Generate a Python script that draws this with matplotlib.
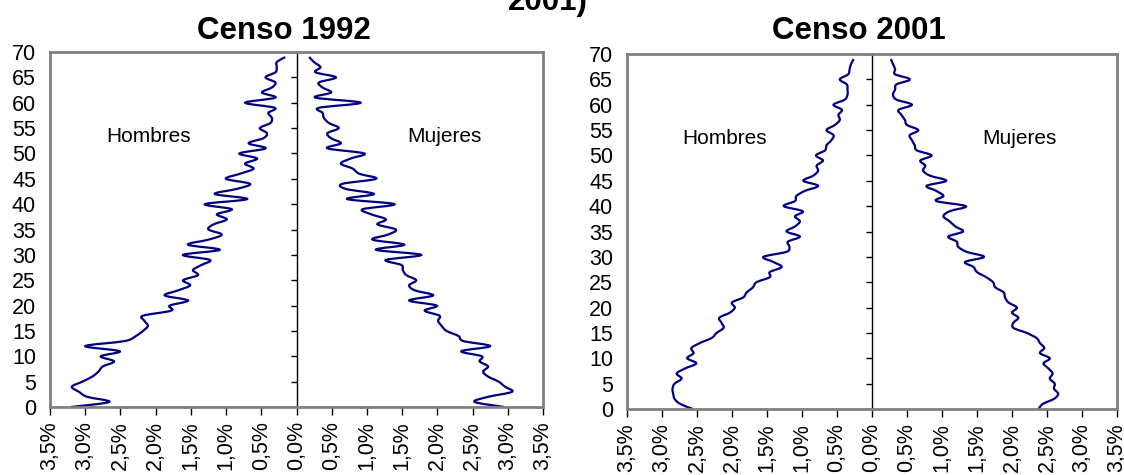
import matplotlib
matplotlib.use("Agg")
import matplotlib.pyplot as plt
from matplotlib.path import Path
from matplotlib.patches import PathPatch
import numpy as np

plt.rcParams['font.family'] = ['Liberation Sans', 'DejaVu Sans']

ages = list(range(70))

# Censo 1992 (% de la población por edad simple)
hombres_1992 = [3.20, 2.66, 2.97, 3.09, 3.19, 3.04, 2.90, 2.81, 2.75, 2.59,
                2.78, 2.51, 3.00, 2.44, 2.28, 2.18, 2.11, 2.16, 2.18, 1.78,
                1.80, 1.54, 1.87, 1.68, 1.51, 1.61, 1.40, 1.47, 1.35, 1.23,
                1.61, 1.09, 1.54, 1.25, 1.06, 1.25, 1.18, 0.99, 1.13, 0.92,
                1.30, 0.70, 1.16, 0.85, 0.66, 1.00, 0.80, 0.61, 0.73, 0.56,
                0.81, 0.44, 0.68, 0.47, 0.42, 0.52, 0.37, 0.35, 0.40, 0.31,
                0.73, 0.30, 0.49, 0.35, 0.30, 0.44, 0.30, 0.28, 0.28, 0.16]
mujeres_1992 = [2.95, 2.53, 2.72, 3.06, 2.96, 2.87, 2.72, 2.65, 2.72, 2.60,
                2.63, 2.34, 2.75, 2.37, 2.30, 2.13, 2.06, 2.01, 2.03, 1.82,
                1.99, 1.60, 1.94, 1.68, 1.60, 1.70, 1.56, 1.51, 1.49, 1.27,
                1.77, 1.13, 1.53, 1.08, 1.30, 1.41, 1.15, 1.27, 1.06, 0.94,
                1.39, 0.72, 1.10, 0.70, 0.65, 1.13, 0.89, 0.80, 0.63, 0.77,
                0.96, 0.44, 0.63, 0.49, 0.44, 0.60, 0.46, 0.39, 0.37, 0.32,
                0.91, 0.27, 0.49, 0.37, 0.32, 0.56, 0.27, 0.34, 0.25, 0.18]

# Censo 2001
hombres_2001 = [2.56, 2.74, 2.82, 2.84, 2.85, 2.82, 2.72, 2.79, 2.67, 2.51,
                2.64, 2.55, 2.58, 2.46, 2.29, 2.22, 2.12, 2.15, 2.18, 2.03,
                1.96, 2.00, 1.84, 1.79, 1.70, 1.65, 1.46, 1.46, 1.29, 1.41,
                1.55, 1.22, 1.18, 1.20, 1.03, 1.22, 1.10, 1.03, 1.10, 0.99,
                1.26, 1.10, 1.08, 0.96, 0.77, 0.98, 0.84, 0.77, 0.79, 0.70,
                0.80, 0.67, 0.65, 0.58, 0.55, 0.65, 0.53, 0.46, 0.48, 0.43,
                0.55, 0.39, 0.35, 0.35, 0.36, 0.46, 0.34, 0.32, 0.30, 0.26]
mujeres_2001 = [2.38, 2.44, 2.60, 2.66, 2.60, 2.61, 2.54, 2.58, 2.52, 2.45,
                2.54, 2.40, 2.46, 2.40, 2.35, 2.21, 2.02, 2.02, 2.09, 2.00,
                2.07, 1.95, 1.90, 1.88, 1.76, 1.73, 1.63, 1.50, 1.45, 1.33,
                1.60, 1.35, 1.23, 1.21, 1.09, 1.30, 1.19, 1.11, 1.02, 1.11,
                1.34, 0.92, 1.02, 0.92, 0.78, 1.06, 0.83, 0.73, 0.76, 0.69,
                0.85, 0.64, 0.61, 0.57, 0.54, 0.66, 0.50, 0.47, 0.42, 0.38,
                0.57, 0.35, 0.30, 0.33, 0.35, 0.54, 0.33, 0.33, 0.30, 0.27]

x_ticks = np.arange(-3.5, 3.51, 0.5)
y_ticks = list(range(0, 71, 5))
LINE = '#000080'
FRAME = '#808080'


def smooth_line(ax, x, y):
    # linea suavizada tipo Excel (Catmull-Rom -> Bezier)
    pts = np.column_stack([x, y])
    n = len(pts)
    verts = [pts[0]]
    codes = [Path.MOVETO]
    for i in range(n - 1):
        p0 = pts[i - 1] if i > 0 else pts[i]
        p1, p2 = pts[i], pts[i + 1]
        p3 = pts[i + 2] if i + 2 < n else pts[i + 1]
        verts += [p1 + (p2 - p0) / 6, p2 - (p3 - p1) / 6, p2]
        codes += [Path.CURVE4] * 3
    ax.add_patch(PathPatch(Path(verts, codes), fill=False, edgecolor=LINE, lw=1.6))


def piramide(ax, hombres, mujeres):
    smooth_line(ax, [-v for v in hombres], ages)
    smooth_line(ax, mujeres, ages)
    ax.set_xlim(-3.5, 3.5)
    ax.set_ylim(0, 70)
    ax.set_xticks(x_ticks)
    ax.set_xticklabels([f"{abs(v):.1f}%".replace('.', ',') for v in x_ticks],
                       rotation=90, fontsize=15.5)
    ax.set_yticks(y_ticks)
    ax.set_yticklabels([str(v) for v in y_ticks], fontsize=15.5)
    ax.tick_params(axis='y', length=0, pad=10)
    ax.tick_params(axis='x', length=6, width=1, color='black', direction='out', pad=4)
    for s in ax.spines.values():
        s.set_color(FRAME)
        s.set_linewidth(2)
    ax.axvline(0, color='black', lw=1)
    ax.hlines(y_ticks, -0.08, 0, color='black', lw=1)
    ax.text(-2.1, 53.3, 'Hombres', fontsize=15, ha='center', va='center')
    ax.text(2.1, 53.3, 'Mujeres', fontsize=15, ha='center', va='center')


fig = plt.figure(figsize=(11.24, 4.75), dpi=100)
ax1 = fig.add_axes([50 / 1124, 68 / 475, 493 / 1124, 355 / 475])
ax2 = fig.add_axes([627 / 1124, 66 / 475, 490 / 1124, 355 / 475])

piramide(ax1, hombres_1992, mujeres_1992)
piramide(ax2, hombres_2001, mujeres_2001)

fig.text(284 / 1124, 1 - 39 / 475, 'Censo 1992', fontsize=22.5, fontweight='bold',
         ha='center', va='baseline')
fig.text(859 / 1124, 1 - 39 / 475, 'Censo 2001', fontsize=22.5, fontweight='bold',
         ha='center', va='baseline')
fig.text(548 / 1124, 1 - 10 / 475, '2001)', fontsize=22.5, fontweight='bold',
         ha='center', va='baseline')

fig.savefig('out.png', dpi=100)
